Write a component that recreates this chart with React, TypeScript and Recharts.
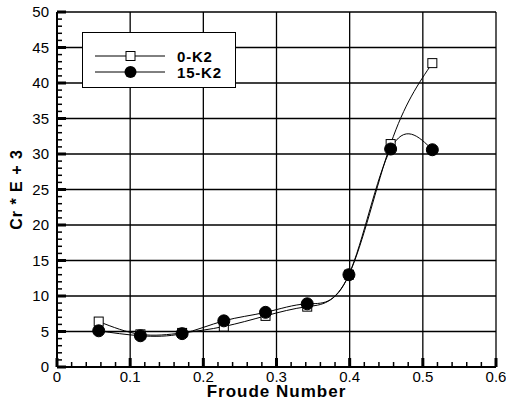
import React from 'react';
import { ComposedChart, Line, XAxis, YAxis, CartesianGrid } from 'recharts';

// Froude numbers and Cr*E+3 values
const froude = [0.057, 0.114, 0.171, 0.228, 0.285, 0.342, 0.399, 0.456, 0.513];
const k0 = [6.4, 4.6, 4.8, 5.7, 7.2, 8.5, 13.0, 31.4, 42.8];
const k15 = [5.1, 4.4, 4.7, 6.5, 7.7, 8.9, 13.0, 30.7, 30.6];

const xMajor = [0, 0.1, 0.2, 0.3, 0.4, 0.5, 0.6];
const yMajor = [0, 5, 10, 15, 20, 25, 30, 35, 40, 45, 50];
const xLabels = ['0', '0.1', '0.2', '0.3', '0.4', '0.5', '0.6'];
const yLabels = ['0', '5', '10', '15', '20', '25', '30', '35', '40', '45', '50'];

// minor ticks: 4 between majors
const xTicks = Array.from({ length: 31 }, (_, i) => +(i * 0.02).toFixed(2));
const yTicks = Array.from({ length: 51 }, (_, i) => i);

const data = froude.map((f, i) => ({ f, k0: k0[i], k15: k15[i] }));

const FONT = '"Liberation Sans", Arial, sans-serif';

const xLabelOf = (v: number) => {
  const i = xMajor.findIndex((m) => Math.abs(m - v) < 1e-6);
  return i >= 0 ? xLabels[i] : null;
};
const yLabelOf = (v: number) => {
  const i = yMajor.indexOf(v);
  return i >= 0 ? yLabels[i] : null;
};

// inward ticks, labels outside on bottom/left only
const Tk = (props: any) => {
  const { x, y, payload, side } = props;
  const label = side === 'left' ? yLabelOf(payload.value) : xLabelOf(payload.value);
  const len = label !== null ? 9 : 5;
  let d = `M${x},${y}V${y - len}`;
  if (side === 'top') d = `M${x},${y}V${y + len}`;
  if (side === 'left') d = `M${x},${y}H${x + len}`;
  return (
    <g>
      <path d={d} stroke="black" strokeWidth={label !== null ? 3 : 1.5} />
      {label !== null && side === 'bottom' && (
        <text x={x} y={y + 15} textAnchor="middle" fontSize={15} fontFamily={FONT} fill="#000">
          {label}
        </text>
      )}
      {label !== null && side === 'left' && (
        <text x={x - 8} y={y + 5} textAnchor="end" fontSize={15} fontFamily={FONT} fill="#000">
          {label}
        </text>
      )}
    </g>
  );
};

const SquareDot = (props: any) => {
  const { cx, cy } = props;
  return <rect x={cx - 4.5} y={cy - 4.5} width={9} height={9} fill="#fff" stroke="#000" strokeWidth={1} />;
};

const CircleDot = (props: any) => {
  const { cx, cy } = props;
  return <circle cx={cx} cy={cy} r={6} fill="#000" stroke="#000" />;
};

const axisLine = { stroke: '#000', strokeWidth: 2 };

export default function App() {
  return (
    <div style={{ position: 'absolute', left: 0, top: 0, width: 506, height: 400, background: '#fff' }}>
      <ComposedChart width={506} height={400} data={data} margin={{ top: 12, right: 10, bottom: 0, left: 0 }}>
        <CartesianGrid
          xAxisId="b"
          yAxisId="l"
          stroke="#000"
          strokeWidth={1.3}
          verticalValues={xMajor.slice(1)}
          horizontalValues={yMajor.slice(1)}
        />
        <XAxis
          xAxisId="b"
          dataKey="f"
          type="number"
          domain={[0, 0.6]}
          ticks={xTicks}
          interval={0}
          height={33}
          tickSize={0}
          tickMargin={0}
          tickLine={false}
          axisLine={axisLine}
          tick={<Tk side="bottom" />}
          label={{ value: 'Froude Number', position: 'insideBottom', offset: 3, fontSize: 17, fontWeight: 'bold', fill: '#000', fontFamily: FONT, letterSpacing: 1 }}
        />
        <XAxis
          xAxisId="t"
          orientation="top"
          dataKey="f"
          type="number"
          domain={[0, 0.6]}
          ticks={xTicks}
          interval={0}
          height={0}
          tickSize={0}
          tickMargin={0}
          tickLine={false}
          axisLine={axisLine}
          tick={<Tk side="top" />}
        />
        <YAxis
          yAxisId="l"
          type="number"
          domain={[0, 50]}
          ticks={yTicks}
          interval={0}
          width={57}
          tickSize={0}
          tickMargin={0}
          tickLine={false}
          axisLine={axisLine}
          tick={<Tk side="left" />}
          label={{ value: 'Cr * E + 3', angle: -90, position: 'insideLeft', offset: 16, fontSize: 16, fontWeight: 'bold', fill: '#000', fontFamily: FONT, letterSpacing: 1, style: { textAnchor: 'middle' } }}
        />
        {/* invisible series so the top frame axis gets a scale */}
        <Line xAxisId="t" yAxisId="l" dataKey="k0" stroke="none" dot={false} activeDot={false} isAnimationActive={false} legendType="none" />
        <Line
          xAxisId="b"
          yAxisId="l"
          type="natural"
          dataKey="k0"
          stroke="#000"
          strokeWidth={1}
          dot={<SquareDot />}
          isAnimationActive={false}
        />
        <Line
          xAxisId="b"
          yAxisId="l"
          type="natural"
          dataKey="k15"
          stroke="#000"
          strokeWidth={1}
          dot={<CircleDot />}
          isAnimationActive={false}
        />
      </ComposedChart>
      <div style={{ position: 'absolute', left: 82, top: 32, width: 152, height: 54, border: '1.5px solid #000', background: '#fff' }}>
        <svg width={152} height={54}>
          <line x1={12} x2={82} y1={23} y2={23} stroke="#000" strokeWidth={1} />
          <rect x={43} y={18.5} width={9} height={9} fill="#fff" stroke="#000" />
          <text x={94} y={28.5} fontSize={15} fontWeight="bold" fontFamily={FONT} letterSpacing={0.8}>0-K2</text>
          <line x1={12} x2={82} y1={39} y2={39} stroke="#000" strokeWidth={1} />
          <circle cx={47.5} cy={39} r={6} fill="#000" />
          <text x={94} y={44.5} fontSize={15} fontWeight="bold" fontFamily={FONT} letterSpacing={0.8}>15-K2</text>
        </svg>
      </div>
    </div>
  );
}
